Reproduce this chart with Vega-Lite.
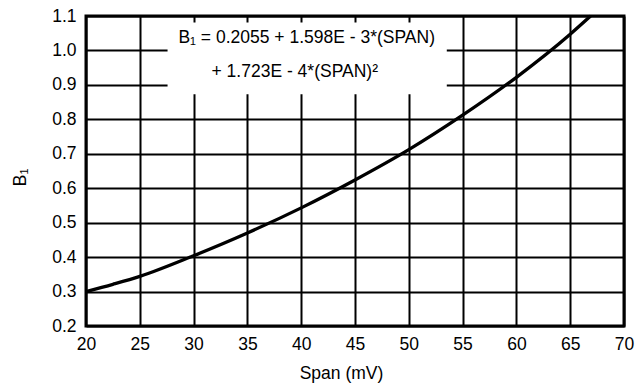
{
  "$schema": "https://vega.github.io/schema/vega-lite/v6.json",
  "width": 538,
  "height": 310,
  "autosize": {"type": "none"},
  "padding": {"left": 86, "top": 16, "right": 17, "bottom": 57},
  "background": "white",
  "config": {
    "font": "Liberation Sans",
    "view": {"stroke": "black", "strokeWidth": 3},
    "axis": {
      "grid": true,
      "gridColor": "black",
      "gridWidth": 2,
      "gridOpacity": 1,
      "domain": false,
      "ticks": false,
      "tickSize": 0,
      "labelFont": "Liberation Sans",
      "labelFontSize": 17.5,
      "labelColor": "black",
      "labelFlush": false,
      "labelOverlap": false,
      "titleFont": "Liberation Sans",
      "titleFontWeight": "normal",
      "titleColor": "black"
    }
  },
  "data": {
    "values": [
      {"span": 20, "b1": 0.3},
      {"span": 22.5, "b1": 0.321},
      {"span": 25, "b1": 0.344},
      {"span": 30, "b1": 0.404},
      {"span": 35, "b1": 0.47},
      {"span": 40, "b1": 0.543},
      {"span": 45, "b1": 0.624},
      {"span": 50, "b1": 0.712},
      {"span": 55, "b1": 0.812},
      {"span": 60, "b1": 0.922},
      {"span": 65, "b1": 1.047},
      {"span": 66.9, "b1": 1.1}
    ]
  },
  "layer": [
    {
      "mark": {"type": "line", "color": "black", "strokeWidth": 3.3, "interpolate": "monotone"},
      "encoding": {
        "x": {
          "field": "span",
          "type": "quantitative",
          "scale": {"domain": [20, 70], "nice": false, "zero": false},
          "axis": {
            "values": [20, 25, 30, 35, 40, 45, 50, 55, 60, 65, 70],
            "labelPadding": 9,
            "title": "Span (mV)",
            "titleFontSize": 17.5,
            "titleX": 255,
            "titleY": 52,
            "titleAlign": "center",
            "titleBaseline": "alphabetic"
          }
        },
        "y": {
          "field": "b1",
          "type": "quantitative",
          "scale": {"domain": [0.2, 1.1], "nice": false, "zero": false},
          "axis": {
            "values": [0.2, 0.3, 0.4, 0.5, 0.6, 0.7, 0.8, 0.9, 1.0, 1.1],
            "format": ".1f",
            "labelPadding": 10,
            "title": "B₁",
            "titleFontSize": 18,
            "titleAngle": 270,
            "titleX": -61,
            "titleY": 161,
            "titleAlign": "center",
            "titleBaseline": "alphabetic"
          }
        }
      }
    },
    {
      "data": {"values": [{}]},
      "mark": {"type": "rect", "fill": "white", "stroke": null},
      "encoding": {
        "x": {"datum": 27.58, "type": "quantitative", "axis": {"values": [20, 25, 30, 35, 40, 45, 50, 55, 60, 65, 70]}},
        "x2": {"datum": 53.53},
        "y": {"datum": 0.873, "type": "quantitative", "axis": {"values": [0.2, 0.3, 0.4, 0.5, 0.6, 0.7, 0.8, 0.9, 1.0, 1.1], "format": ".1f"}},
        "y2": {"datum": 1.081}
      }
    },
    {
      "data": {"values": [{}]},
      "mark": {"type": "text", "fontSize": 17.5, "fill": "black", "align": "center", "baseline": "alphabetic", "font": "Liberation Sans"},
      "encoding": {
        "x": {"datum": 40.51, "type": "quantitative", "axis": {"values": [20, 25, 30, 35, 40, 45, 50, 55, 60, 65, 70]}},
        "y": {"datum": 1.0206, "type": "quantitative", "axis": {"values": [0.2, 0.3, 0.4, 0.5, 0.6, 0.7, 0.8, 0.9, 1.0, 1.1], "format": ".1f"}},
        "text": {"value": "B₁ = 0.2055 + 1.598E - 3*(SPAN)"}
      }
    },
    {
      "data": {"values": [{}]},
      "mark": {"type": "text", "fontSize": 17.5, "fill": "black", "align": "center", "baseline": "alphabetic", "font": "Liberation Sans"},
      "encoding": {
        "x": {"datum": 39.4, "type": "quantitative", "axis": {"values": [20, 25, 30, 35, 40, 45, 50, 55, 60, 65, 70]}},
        "y": {"datum": 0.9235, "type": "quantitative", "axis": {"values": [0.2, 0.3, 0.4, 0.5, 0.6, 0.7, 0.8, 0.9, 1.0, 1.1], "format": ".1f"}},
        "text": {"value": "+ 1.723E - 4*(SPAN)²"}
      }
    }
  ]
}
